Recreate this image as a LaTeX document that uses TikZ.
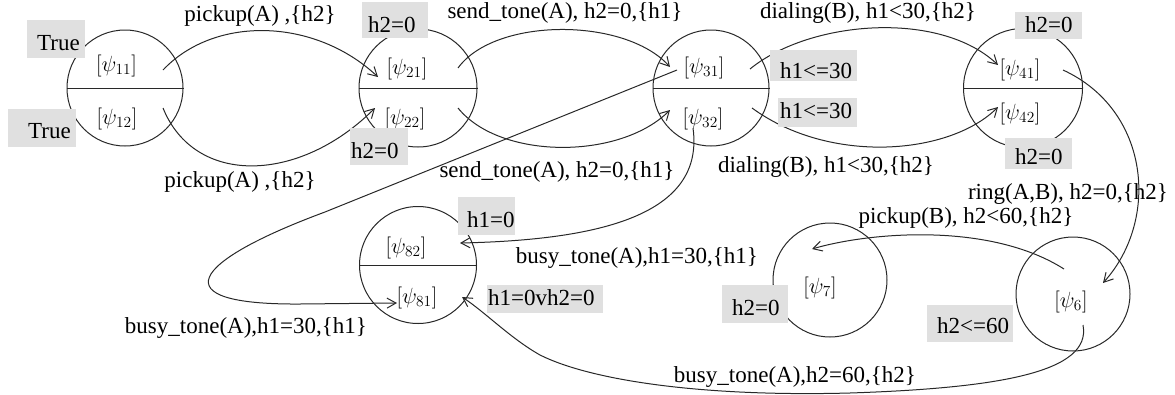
\RequirePackage{fix-cm}
\documentclass[tikz,border=0pt]{standalone}
\usepackage[no-math]{fontspec}
\setmainfont{Liberation Serif}
\usetikzlibrary{arrows.meta,calc}
\definecolor{ink}{RGB}{40,40,40}
\definecolor{boxgray}{RGB}{224,224,224}
\newcommand{\gbtext}[3]{\makebox[#1][l]{\hspace*{#2}#3}}
\begin{document}
\begin{tikzpicture}[x=1pt,y=-1pt,
  loc/.style={draw=ink, line width=1pt, circle, inner sep=0pt, minimum size=#1},
  divider/.style={draw=ink, line width=1pt},
  psi/.style={inner sep=0pt, font=\fontsize{22}{22}\selectfont},
  lab/.style={inner sep=0pt, font=\fontsize{23}{26}\selectfont},
  gbox/.style={fill=boxgray, inner sep=0pt, anchor=north west,
               font=\fontsize{23}{26}\selectfont},
  arr/.style={draw=ink, line width=1pt,
              -{Straight Barb[length=9pt,width=10pt,line width=1pt]}}]
\useasboundingbox (0,0) rectangle (1175,394);

% locations
\node[loc=116pt] (c1) at (125,88) {};
\node[loc=118pt] (c2) at (418,88) {};
\node[loc=116pt] (c3) at (711,88) {};
\node[loc=119pt] (c4) at (1023,88) {};
\node[loc=117pt] (c8) at (418,265) {};
\node[loc=114pt] (c7) at (830,280) {};
\node[loc=114pt] (c6) at (1073,294) {};
\draw[divider] (c1.west) -- (c1.east);
\draw[divider] (c2.west) -- (c2.east);
\draw[divider] (c3.west) -- (c3.east);
\draw[divider] (c4.west) -- (c4.east);
\draw[divider] (c8.west) -- (c8.east);

% psi labels
\node[psi] (p11) at (116.5,66) {$[\psi_{11}]$};
\node[psi] (p12) at (117,119) {$[\psi_{12}]$};
\node[psi] (p21) at (407,69) {$[\psi_{21}]$};
\node[psi] (p22) at (405,119) {$[\psi_{22}]$};
\node[psi] (p31) at (704,68) {$[\psi_{31}]$};
\node[psi] (p32) at (703,119) {$[\psi_{32}]$};
\node[psi] (p41) at (1020,70) {$[\psi_{41}]$};
\node[psi] (p42) at (1020,114) {$[\psi_{42}]$};
\node[psi] (p82) at (406,248) {$[\psi_{82}]$};
\node[psi] (p81) at (417,298) {$[\psi_{81}]$};
\node[psi] (p7) at (820,288) {$[\psi_{7}]$};
\node[psi] (p6) at (1071,302) {$[\psi_{6}]$};

% transitions
\draw[arr] ($(p11)+(46.5,4)$) .. controls (215,15) and (315,18) .. ($(p21)+(-29,8)$);
\draw[arr] ($(p12)+(46,-11)$) .. controls (195,187) and (300,183) .. ($(p22)+(-30,-11)$);
\draw[arr] ($(p21)+(51,-1)$) .. controls (495,17) and (625,17) .. ($(p31)+(-34,-1)$);
\draw[arr] ($(p22)+(53,-11)$) .. controls (500,160) and (620,160) .. ($(p32)+(-33,-9)$);
\draw[arr] ($(p31)+(46,1)$) .. controls (810,20) and (940,10) .. ($(p41)+(-22,-5)$);
\draw[arr] ($(p32)+(49,-11)$) .. controls (830,165) and (950,155) .. ($(p42)+(-22,-7)$);
\draw[arr] ($(p41)+(43,0)$) .. controls (1150,110) and (1160,220) .. ($(p6)+(32,-19)$);
\draw[arr] ($(p6)+(-7,-33)$) .. controls (990,222) and (870,232) .. ($(p7)+(-8,-39)$);
\draw[arr] ($(p6)+(12,23)$) .. controls (1092,372) and (1000,388) .. (850,393)
  .. controls (700,397) and (590,380) .. (540,355)
  .. controls (510,338) and (485,312) .. ($(p81)+(45,-1)$);
\draw[arr] ($(p31)+(-27,2)$) -- (325,212) .. controls (190,262) and (160,305) .. (300,304)
  -- ($(p81)+(-20,5)$);
\draw[arr] ($(p32)+(-10,9)$) .. controls (705,215) and (600,240) .. ($(p82)+(54,-5)$);

% transition labels
\node[lab] (l1) at (260,16) {pickup(A) ,\{h2\}};
\node[lab] (l2) at (240,182) {pickup(A) ,\{h2\}};
\node[lab] (l3) at (565,13) {send\_tone(A), h2=0,\{h1\}};
\node[lab] (l4) at (557,172) {send\_tone(A), h2=0,\{h1\}};
\node[lab] (l5) at (868,13) {dialing(B), h1<30,\{h2\}};
\node[lab] (l6) at (826,167) {dialing(B), h1<30,\{h2\}};
\node[lab] (l7) at (1068,194) {ring(A,B), h2=0,\{h2\}};
\node[lab] (l8) at (966,218) {pickup(B), h2<60,\{h2\}};
\node[lab] (l9) at (637,258) {busy\_tone(A),h1=30,\{h1\}};
\node[lab] (l10) at (246,328) {busy\_tone(A),h1=30,\{h1\}};
\node[lab] (l11) at (795,377) {busy\_tone(A),h2=60,\{h2\}};

% invariant boxes
\node[gbox, text height=30pt, text depth=8pt] (b1) at (27,20) {\gbtext{58pt}{10pt}{True}};
\node[gbox, text height=29pt, text depth=9pt] (b2) at (8,109) {\gbtext{68pt}{20pt}{True}};
\node[gbox, text height=30pt, text depth=6pt] (b3) at (362,2) {\gbtext{66pt}{6pt}{h2=0}};
\node[gbox, text height=30pt, text depth=7pt] (b4) at (350,128) {\gbtext{58pt}{1pt}{h2=0}};
\node[gbox, text height=28pt, text depth=3pt] (b5) at (770,50) {\gbtext{87pt}{10pt}{h1<=30}};
\node[gbox, text height=20pt, text depth=9pt] (b6) at (778,98) {\gbtext{79pt}{2pt}{h1<=30}};
\node[gbox, text height=20pt, text depth=7pt] (b7) at (1015,12) {\gbtext{67pt}{10pt}{h2=0}};
\node[gbox, text height=26pt, text depth=5pt] (b8) at (1005,138) {\gbtext{67pt}{10pt}{h2=0}};
\node[gbox, text height=30pt, text depth=8pt] (b9) at (458,197) {\gbtext{57pt}{9pt}{h1=0}};
\node[gbox, text height=20pt, text depth=8pt] (b10) at (487,285) {\gbtext{116pt}{1pt}{h1=0vh2=0}};
\node[gbox, text height=30pt, text depth=8pt] (b11) at (722,285) {\gbtext{66pt}{10pt}{h2=0}};
\node[gbox, text height=28pt, text depth=9pt] (b12) at (927,305) {\gbtext{86pt}{10pt}{h2<=60}};
\end{tikzpicture}
\end{document}
